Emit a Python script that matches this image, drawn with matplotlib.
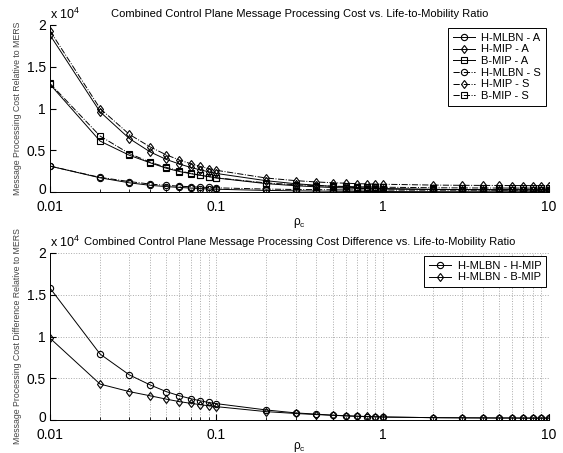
import matplotlib
matplotlib.use("Agg")
import matplotlib.pyplot as plt
import matplotlib.transforms as mtransforms
from matplotlib.ticker import FixedLocator, LogLocator, NullFormatter

plt.rcParams['font.family'] = ['Liberation Sans', 'DejaVu Sans']
plt.rcParams['mathtext.fontset'] = 'custom'
plt.rcParams['mathtext.rm'] = 'Liberation Sans'
plt.rcParams['mathtext.it'] = 'Liberation Sans'

# life-to-mobility ratio
rho = [0.01, 0.02, 0.03, 0.04, 0.05, 0.06, 0.07, 0.08, 0.09, 0.1,
       0.2, 0.3, 0.4, 0.5, 0.6, 0.7, 0.8, 0.9, 1,
       2, 3, 4, 5, 6, 7, 8, 9, 10]

# processing cost relative to MERS (x 10^4)
hmlbn_a = [0.31, 0.17, 0.11, 0.08, 0.065, 0.055, 0.047, 0.041, 0.037, 0.033,
           0.019, 0.014, 0.011, 0.009, 0.008, 0.007, 0.0065, 0.006, 0.0055,
           0.004, 0.0035, 0.0032, 0.003, 0.003, 0.003, 0.003, 0.003, 0.003]
hmip_a = [1.88, 0.96, 0.64, 0.48, 0.39, 0.335, 0.295, 0.265, 0.242, 0.222,
          0.135, 0.099, 0.081, 0.067, 0.058, 0.052, 0.0475, 0.044, 0.0415,
          0.032, 0.0295, 0.0282, 0.027, 0.027, 0.026, 0.026, 0.026, 0.026]
bmip_a = [1.29, 0.61, 0.44, 0.35, 0.285, 0.245, 0.22, 0.20, 0.185, 0.168,
          0.10, 0.075, 0.062, 0.054, 0.048, 0.044, 0.041, 0.038, 0.036,
          0.03, 0.028, 0.027, 0.026, 0.026, 0.025, 0.025, 0.025, 0.025]
hmlbn_s = [0.31, 0.175, 0.125, 0.095, 0.08, 0.07, 0.063, 0.058, 0.054, 0.05,
           0.035, 0.03, 0.028, 0.026, 0.025, 0.024, 0.024, 0.023, 0.023,
           0.022, 0.022, 0.022, 0.022, 0.022, 0.022, 0.022, 0.022, 0.022]
hmip_s = [1.93, 1.00, 0.69, 0.54, 0.445, 0.383, 0.339, 0.306, 0.28, 0.26,
          0.167, 0.136, 0.12, 0.111, 0.105, 0.1, 0.097, 0.095, 0.093,
          0.083, 0.08, 0.079, 0.078, 0.077, 0.077, 0.076, 0.076, 0.076]
bmip_s = [1.30, 0.67, 0.46, 0.357, 0.295, 0.253, 0.224, 0.201, 0.184, 0.17,
          0.108, 0.087, 0.076, 0.07, 0.066, 0.063, 0.061, 0.059, 0.0575,
          0.051, 0.049, 0.048, 0.0475, 0.047, 0.047, 0.0466, 0.0464, 0.0463]

# cost difference relative to MERS (x 10^4)
diff_hmip = [1.58, 0.79, 0.54, 0.42, 0.34, 0.29, 0.256, 0.23, 0.21, 0.196,
             0.12, 0.085, 0.07, 0.058, 0.05, 0.045, 0.041, 0.038, 0.036,
             0.028, 0.026, 0.025, 0.024, 0.024, 0.023, 0.023, 0.023, 0.023]
diff_bmip = [0.98, 0.43, 0.34, 0.29, 0.25, 0.22, 0.20, 0.184, 0.17, 0.16,
             0.10, 0.078, 0.065, 0.056, 0.05, 0.045, 0.042, 0.039, 0.036,
             0.028, 0.026, 0.025, 0.024, 0.024, 0.023, 0.023, 0.023, 0.023]

W, H = 563, 453
fig = plt.figure(figsize=(W / 100, H / 100), dpi=100)
ax1 = fig.add_axes([50 / W, 1 - 192 / H, 499 / W, 167 / H])
ax2 = fig.add_axes([50 / W, 1 - 420 / H, 499 / W, 167 / H])

mk = dict(color='black', lw=0.7, mfc='none', mew=0.8, ms=4.5)

ax1.plot(rho, hmlbn_a, '-', marker='o', label='H-MLBN - A', **mk)
ax1.plot(rho, hmip_a, '-', marker='d', label='H-MIP - A', **mk)
ax1.plot(rho, bmip_a, '-', marker='s', label='B-MIP - A', **mk)
ax1.plot(rho, hmlbn_s, '-.', marker='o', label='H-MLBN - S', **mk)
ax1.plot(rho, hmip_s, '-.', marker='d', label='H-MIP - S', **mk)
ax1.plot(rho, bmip_s, '-.', marker='s', label='B-MIP - S', **mk)

ax2.plot(rho, diff_hmip, '-', marker='o', label='H-MLBN - H-MIP', **mk)
ax2.plot(rho, diff_bmip, '-', marker='d', label='H-MLBN - B-MIP', **mk)

titles = ['Combined Control Plane Message Processing Cost vs. Life-to-Mobility Ratio',
          'Combined Control Plane Message Processing Cost Difference vs. Life-to-Mobility Ratio']
ylabels = ['Message Processing Cost Relative to MERS',
           'Message Processing Cost Difference Relative to MERS']
xlabel_y = [-0.186, -0.162]

# small upward nudge for the "0" tick label so it clears "0.01"
nudge = mtransforms.ScaledTranslation(0, 3 / 100, fig.dpi_scale_trans)

for ax, title, ylab, ly in zip([ax1, ax2], titles, ylabels, xlabel_y):
    ax.set_xscale('log')
    ax.set_xlim(0.01, 10)
    ax.set_ylim(0, 2)
    ax.xaxis.set_major_locator(FixedLocator([0.01, 0.1, 1, 10]))
    ax.set_xticklabels(['0.01', '0.1', '1', '10'])
    ax.xaxis.set_minor_locator(LogLocator(base=10, subs=range(2, 10)))
    ax.xaxis.set_minor_formatter(NullFormatter())
    ax.set_yticks([0, 0.5, 1, 1.5, 2])
    ax.set_yticklabels(['0', '0.5', '1', '1.5', '2'])
    ax.tick_params(which='both', direction='in', labelsize=10)
    ax.tick_params(axis='x', pad=6)
    ax.tick_params(axis='y', pad=3)
    ax.tick_params(which='minor', length=2)
    ax.tick_params(which='major', length=4)
    ylab0 = ax.get_yticklabels()[0]
    ylab0.set_transform(ylab0.get_transform() + nudge)
    ax.spines['top'].set_visible(False)
    ax.spines['right'].set_visible(False)
    for s in ('left', 'bottom'):
        ax.spines[s].set_linewidth(0.7)
    ax.set_title(title, fontsize=8, pad=6)
    ax.set_xlabel(r'$\rho_c$', fontsize=8.5)
    ax.xaxis.set_label_coords(0.5, ly)
    ax.xaxis.label.set_va('center')
    ax.set_ylabel(ylab, fontsize=6.3, color='#444444', labelpad=3)
    ax.text(0.0, 1.02, r'x 10$^4$', transform=ax.transAxes, fontsize=9,
            ha='left', va='bottom')
    leg = ax.legend(loc='upper right', fontsize=8, handlelength=2.0,
                    borderaxespad=0.3, fancybox=False, framealpha=1,
                    edgecolor='black', labelspacing=0.15, borderpad=0.4,
                    handletextpad=0.6)
    leg.get_frame().set_linewidth(0.7)

ax2.grid(True, which='both', axis='x', linestyle=':', color='#aaaaaa', lw=0.7)
ax2.grid(True, which='major', axis='y', linestyle=':', color='#aaaaaa', lw=0.7)
ax2.set_axisbelow(True)

fig.savefig('out.png', dpi=100)
